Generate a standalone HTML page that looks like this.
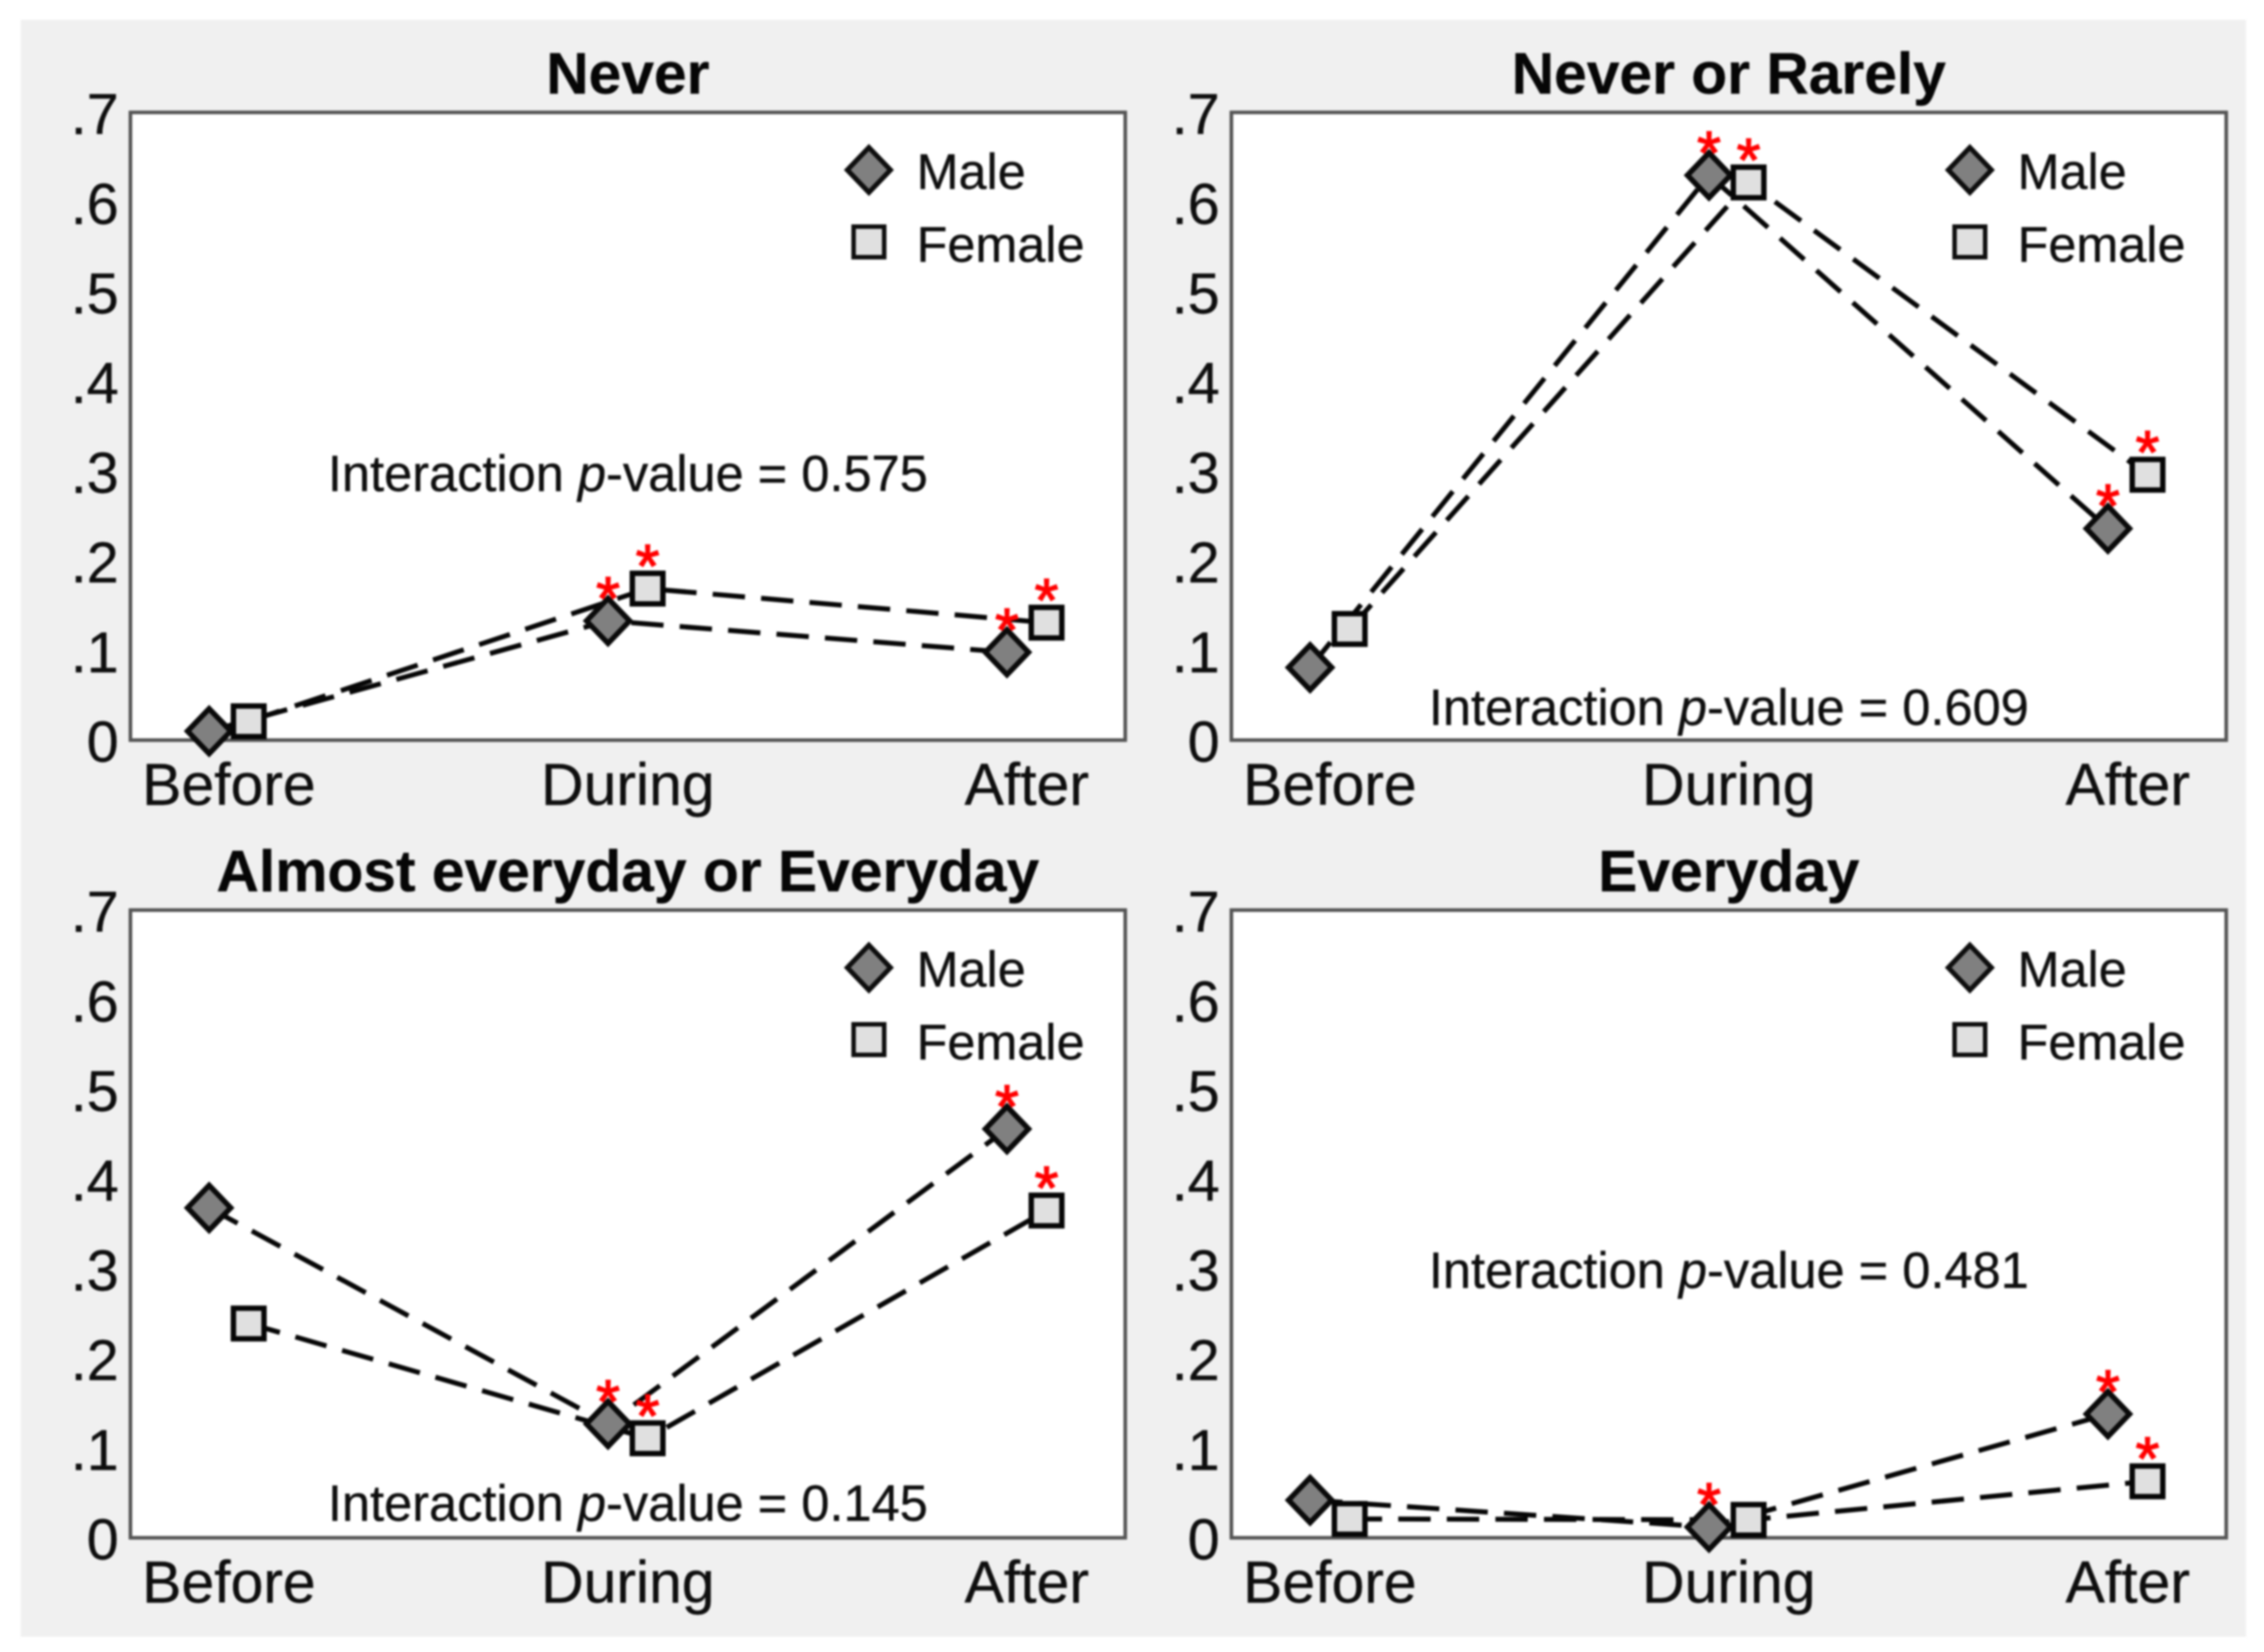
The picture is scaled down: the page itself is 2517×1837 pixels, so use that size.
<!DOCTYPE html>
<html lang="en">
<head>
<meta charset="utf-8">
<title>Interaction plots by sex across Before, During and After</title>
<style>
html,body{margin:0;padding:0;background:#fff;}
body{width:2517px;height:1837px;overflow:hidden;}
svg{display:block;filter:blur(1px);}
text{font-family:"Liberation Sans",sans-serif;fill:#0e0e0e;stroke:#0e0e0e;stroke-width:0.4px;}
.title{font-size:65.3px;font-weight:bold;text-anchor:middle;fill:#060606;stroke:#060606;}
.legend{font-size:56px;}
.note{font-size:56.2px;text-anchor:middle;}
.tick{font-size:64px;}
.xtick{font-size:65.5px;}
.frame{fill:#fff;stroke:#555;stroke-width:4;}
</style>
</head>
<body>
<svg id="chart" xmlns="http://www.w3.org/2000/svg" width="2517" height="1837" viewBox="0 0 2517 1837">
  <rect x="23" y="22" width="2474" height="1798" fill="#f0f0f0"/>

  <g id="panel-0" transform="translate(145,125)">
    <rect class="frame" width="1106" height="698"/>
    <text class="title" x="553" y="-21">Never</text>
    <text class="note" x="553" y="421">Interaction <tspan font-style="italic">p</tspan>-value = 0.575</text>
    <g>
      <polygon points="821,39 845,64 821,89 797,64" fill="#808080" stroke="#0e0e0e" stroke-width="5.5"/>
      <text class="legend" x="874" y="85">Male</text>
      <rect x="804" y="127" width="34" height="34" fill="#e0e0e0" stroke="#0e0e0e" stroke-width="5"/>
      <text class="legend" x="874" y="166">Female</text>
    </g>
  </g>

  <g id="panel-1" transform="translate(1369,125)">
    <rect class="frame" width="1106" height="698"/>
    <text class="title" x="553" y="-21">Never or Rarely</text>
    <text class="note" x="553" y="681">Interaction <tspan font-style="italic">p</tspan>-value = 0.609</text>
    <g>
      <polygon points="821,39 845,64 821,89 797,64" fill="#808080" stroke="#0e0e0e" stroke-width="5.5"/>
      <text class="legend" x="874" y="85">Male</text>
      <rect x="804" y="127" width="34" height="34" fill="#e0e0e0" stroke="#0e0e0e" stroke-width="5"/>
      <text class="legend" x="874" y="166">Female</text>
    </g>
  </g>

  <g id="panel-2" transform="translate(145,1012)">
    <rect class="frame" width="1106" height="698"/>
    <text class="title" x="553" y="-21">Almost everyday or Everyday</text>
    <text class="note" x="553" y="679">Interaction <tspan font-style="italic">p</tspan>-value = 0.145</text>
    <g>
      <polygon points="821,39 845,64 821,89 797,64" fill="#808080" stroke="#0e0e0e" stroke-width="5.5"/>
      <text class="legend" x="874" y="85">Male</text>
      <rect x="804" y="127" width="34" height="34" fill="#e0e0e0" stroke="#0e0e0e" stroke-width="5"/>
      <text class="legend" x="874" y="166">Female</text>
    </g>
  </g>

  <g id="panel-3" transform="translate(1369,1012)">
    <rect class="frame" width="1106" height="698"/>
    <text class="title" x="553" y="-21">Everyday</text>
    <text class="note" x="553" y="420">Interaction <tspan font-style="italic">p</tspan>-value = 0.481</text>
    <g>
      <polygon points="821,39 845,64 821,89 797,64" fill="#808080" stroke="#0e0e0e" stroke-width="5.5"/>
      <text class="legend" x="874" y="85">Male</text>
      <rect x="804" y="127" width="34" height="34" fill="#e0e0e0" stroke="#0e0e0e" stroke-width="5"/>
      <text class="legend" x="874" y="166">Female</text>
    </g>
  </g>
</svg>

<script>
const categories = ['Before', 'During', 'After'];
const yTickValues = [0, 0.1, 0.2, 0.3, 0.4, 0.5, 0.6, 0.7];
const yTickLabels = ['0', '.1', '.2', '.3', '.4', '.5', '.6', '.7'];

const neverMale = [0.010, 0.133, 0.098];
const neverFemale = [0.021, 0.169, 0.131];
const rarelyMale = [0.081, 0.630, 0.236];
const rarelyFemale = [0.124, 0.622, 0.296];
const almostMale = [0.368, 0.127, 0.456];
const almostFemale = [0.239, 0.111, 0.365];
const everydayMale = [0.042, 0.012, 0.138];
const everydayFemale = [0.021, 0.020, 0.063];

const neverMaleSig = [false, true, true];
const neverFemaleSig = [false, true, true];
const rarelyMaleSig = [false, true, true];
const rarelyFemaleSig = [false, true, true];
const almostMaleSig = [false, true, true];
const almostFemaleSig = [false, true, true];
const everydayMaleSig = [false, true, true];
const everydayFemaleSig = [false, false, true];

const SVG_NS = 'http://www.w3.org/2000/svg';
const plotHeight = 698;
const unitsToPixels = 997;
const firstCategoryX = 109.5;
const categoryStep = 443.5;
const dodge = 22;

function yScale(v) { return plotHeight - v * unitsToPixels; }
function xScale(i, offset) { return firstCategoryX + i * categoryStep + offset; }
function make(tag) { return document.createElementNS(SVG_NS, tag); }

function drawAxes(group) {
  yTickValues.forEach(function (v, i) {
    const label = make('text');
    
    
    label.setAttribute('class', 'tick');
    label.setAttribute('x', -13);
    label.setAttribute('y', yScale(v) + 24);
    label.setAttribute('text-anchor', 'end');
    label.textContent = yTickLabels[i];
    group.appendChild(label);
  });
  categories.forEach(function (name, i) {
    const label = make('text');
    
    
    label.setAttribute('class', 'xtick');
    label.setAttribute('x', xScale(i, 0));
    label.setAttribute('y', plotHeight + 72);
    label.setAttribute('text-anchor', 'middle');
    label.textContent = name;
    group.appendChild(label);
  });
}

function drawLine(group, values, offset) {
  const line = make('polyline');
  
  
  line.setAttribute('points', values.map(function (v, i) {
    return xScale(i, offset) + ',' + yScale(v);
  }).join(' '));
  line.setAttribute('fill', 'none');
  line.setAttribute('stroke', '#060606');
  line.setAttribute('stroke-width', '5.5');
  line.setAttribute('stroke-dasharray', '36 18');
  group.appendChild(line);
}

function drawStars(group, values, sig, offset) {
  values.forEach(function (v, i) {
    if (!sig[i]) return;
    const star = make('text');
    
    
    star.setAttribute('x', xScale(i, offset));
    star.setAttribute('y', yScale(v) - 2);
    star.setAttribute('text-anchor', 'middle');
    star.setAttribute('font-size', '68');
    star.setAttribute('style', 'fill:#ff0000;stroke:#ff0000;stroke-width:1.4px');
    star.textContent = '*';
    group.appendChild(star);
  });
}

function drawMaleMarkers(group, values) {
  values.forEach(function (v, i) {
    const cx = xScale(i, -dodge);
    const cy = yScale(v);
    const m = make('polygon');
    
    
    m.setAttribute('points', [cx, cy - 25, cx + 24, cy, cx, cy + 25, cx - 24, cy].join(','));
    m.setAttribute('fill', '#808080');
    m.setAttribute('stroke', '#0a0a0a');
    m.setAttribute('stroke-width', '6');
    group.appendChild(m);
  });
}

function drawFemaleMarkers(group, values) {
  values.forEach(function (v, i) {
    const cx = xScale(i, dodge);
    const cy = yScale(v);
    const m = make('rect');
    
    
    m.setAttribute('x', cx - 17);
    m.setAttribute('y', cy - 17);
    m.setAttribute('width', 34);
    m.setAttribute('height', 34);
    m.setAttribute('fill', '#e0e0e0');
    m.setAttribute('stroke', '#060606');
    m.setAttribute('stroke-width', '6');
    group.appendChild(m);
  });
}

function drawPanel(id, male, female, maleSig, femaleSig) {
  const group = document.getElementById(id);
  drawAxes(group);
  drawLine(group, male, -dodge);
  drawLine(group, female, dodge);
  drawMaleMarkers(group, male);
  drawFemaleMarkers(group, female);
  drawStars(group, male, maleSig, -dodge);
  drawStars(group, female, femaleSig, dodge);
}

drawPanel('panel-0', neverMale, neverFemale, neverMaleSig, neverFemaleSig);
drawPanel('panel-1', rarelyMale, rarelyFemale, rarelyMaleSig, rarelyFemaleSig);
drawPanel('panel-2', almostMale, almostFemale, almostMaleSig, almostFemaleSig);
drawPanel('panel-3', everydayMale, everydayFemale, everydayMaleSig, everydayFemaleSig);
</script>
</body>
</html>
